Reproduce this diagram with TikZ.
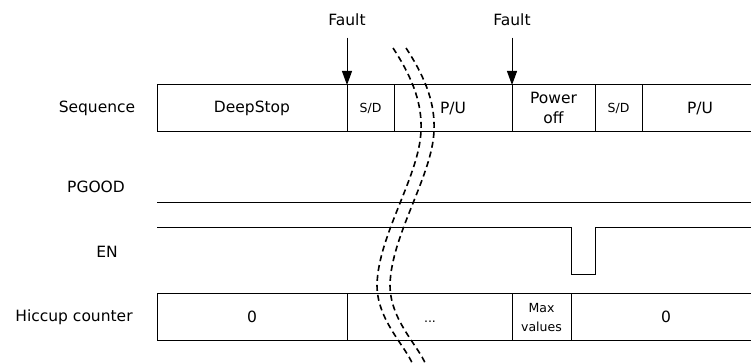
\documentclass[tikz,border=0pt]{standalone}
\usepackage{fontspec}
\setmainfont{DejaVu Sans}
\usetikzlibrary{arrows.meta}

\tikzset{
  lbl/.style={font=\fontsize{15.5}{20}\selectfont, align=center},
  sm/.style={font=\fontsize{12.5}{19}\selectfont, align=center},
  wire/.style={line width=1pt},
  fault/.style={line width=1pt, shorten <=8pt, -{Triangle[length=14pt,width=10pt]}},
  cut/.style={line width=1.6pt, dash pattern=on 6pt off 4pt},
}

\begin{document}
\begin{tikzpicture}[x=1pt,y=-1pt]
  \useasboundingbox (0,0) rectangle (751,363);

  % row labels
  \node[lbl] (seq) at (97,108) {Sequence};
  \node[lbl] (pgood) at (96,187) {PGOOD};
  \node[lbl] (en) at (107,252) {EN};
  \node[lbl] (hic) at (74,317) {Hiccup counter};

  % sequence row
  \draw[wire] (751,85) -- (157,85) -- (157,132) -- (751,132);
  \foreach \x in {347,394,512,595,642}
    \draw[wire] (\x,85) -- (\x,132);
  \node[lbl] (deep) at (252,108.5) {DeepStop};
  \node[sm] (sdA) at (370.5,108.5) {S/D};
  \node[lbl] (puA) at (453,108.5) {P/U};
  \node[lbl] (poff) at (553.5,107.5) {Power\\off};
  \node[sm] (sdB) at (618.5,108.5) {S/D};
  \node[lbl] (puB) at (700,108.5) {P/U};

  % faults
  \node[lbl] (fA) at (347,20) {Fault};
  \node[lbl] (fB) at (512,20) {Fault};
  \coordinate (hitA) at (347,85);
  \coordinate (hitB) at (512,85);
  \draw[fault] (fA) -- (hitA);
  \draw[fault] (fB) -- (hitB);

  % PGOOD and EN
  \draw[wire] (157,203) -- (751,203);
  \draw[wire] (157,227) -- (571,227) -- (571,274) -- (595,274) -- (595,227) -- (751,227);

  % hiccup counter row
  \draw[wire] (751,293) -- (157,293) -- (157,340) -- (751,340);
  \foreach \x in {347,512,571}
    \draw[wire] (\x,293) -- (\x,340);
  \node[lbl] (cntA) at (252,316.5) {0};
  \node[sm] (dots) at (430,322) {...};
  \node[sm] (maxv) at (541.5,317.5) {Max\\values};
  \node[lbl] (cntB) at (666,316.5) {0};

  % time break
  \foreach \dx in {0,13}
    \draw[cut, xshift=\dx pt] (393,48) .. controls (414,80) and (422,105) .. (421,130)
      .. controls (420,175) and (378,235) .. (377,285)
      .. controls (377,320) and (405,345) .. (413,365);
\end{tikzpicture}
\end{document}
